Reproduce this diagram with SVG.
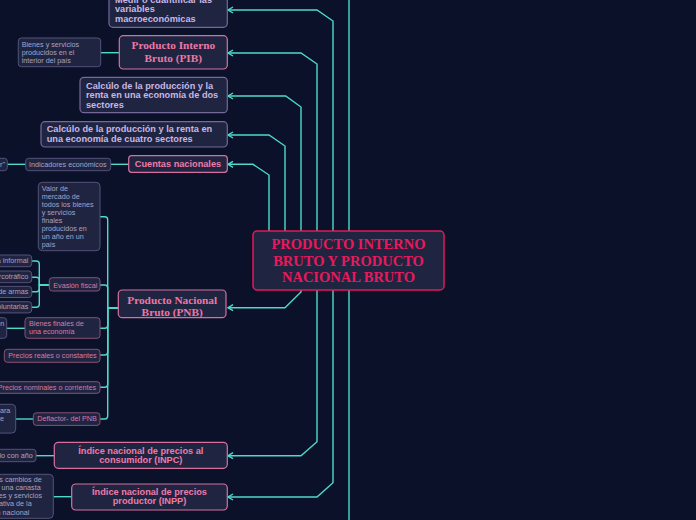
<svg xmlns="http://www.w3.org/2000/svg" width="696" height="520" viewBox="0 0 696 520">
<defs>
<marker id="arr" viewBox="0 0 8 8" refX="7" refY="4" markerWidth="8" markerHeight="8" orient="auto" markerUnits="userSpaceOnUse">
<path d="M2 1 L7 4 L2 7" fill="none" stroke="#4fd9c8" stroke-width="1.4"/>
</marker>
<style>
.bg{fill:#0b1129}
.c{fill:none;stroke:#4fd9c8;stroke-width:1.4}
.ca{fill:none;stroke:#4fd9c8;stroke-width:1.4;marker-end:url(#arr)}
.n{fill:#1f2541}
.lav{stroke:#74699a;stroke-width:1.2}
.pk{stroke:#d8709f;stroke-width:1.2}
.sl{stroke:#54527a;stroke-width:1}
.sp{stroke:#8a4f74;stroke-width:1}
.ctr{stroke:#e0195a;stroke-width:1.5}
.tb{font-family:"Liberation Sans",Arial,sans-serif;font-weight:bold;font-size:9.2px}
.tl{fill:#c9b6e6}
.tp{fill:#f07aa8}
.ts{font-family:"Liberation Sans",Arial,sans-serif;font-size:7.2px}
.tsl{fill:#a8a2c4}
.tsp{fill:#d87aa8}
.serif{font-family:"Liberation Serif","Times New Roman",serif;font-weight:bold;font-size:11.3px;fill:#ec77a6;text-anchor:middle}
.ctxt{font-family:"Liberation Serif","Times New Roman",serif;font-weight:bold;font-size:14.5px;fill:#e8195c;text-anchor:middle}
.mid{text-anchor:middle}
.end{text-anchor:end}
</style>
</defs>
<rect class="bg" x="0" y="0" width="696" height="520"/>

<g id="connectors">
<path class="c" d="M349 0 V520"/>
<path class="ca" d="M333 260 V21 L317 10 H228"/>
<path class="ca" d="M317 260 V64 L301 53 H228"/>
<path class="ca" d="M301 260 V107 L285.7 96 H228"/>
<path class="ca" d="M285 260 V146 L269 135 H228"/>
<path class="ca" d="M269 260 V175 L253 164.3 H228"/>
<path class="ca" d="M301 280 V292 L285 307.7 H228"/>
<path class="ca" d="M317 280 V441.7 L301 455.7 H228"/>
<path class="ca" d="M333 280 V482.7 L317 497 H228"/>
<path class="c" d="M100.7 52.7 H119.3"/>
<path class="c" d="M110.7 164.3 H128.7"/>
<path class="c" d="M25.7 164.3 H7.3"/>
<path class="c" d="M118.3 308 H107.7 V219.7 Q107.7 216.7 104.7 216.7 H100"/>
<path class="c" d="M118.3 308 H107.7 V288 Q107.7 285 104.7 285 H100"/>
<path class="c" d="M118.3 308 H107.7 V325.3 Q107.7 328.3 104.7 328.3 H100"/>
<path class="c" d="M118.3 308 H107.7 V352 Q107.7 355 104.7 355 H100"/>
<path class="c" d="M118.3 308 H107.7 V384.3 Q107.7 387.3 104.7 387.3 H100"/>
<path class="c" d="M118.3 308 H107.7 V416 Q107.7 419 104.7 419 H100"/>
<path class="c" d="M49.3 285 H39.3 V264 Q39.3 261 36.3 261 H31.7"/>
<path class="c" d="M49.3 285 H39.3 V280.3 Q39.3 277.3 36.3 277.3 H31.7"/>
<path class="c" d="M49.3 285 H39.3 V288.7 Q39.3 291.7 36.3 291.7 H31.7"/>
<path class="c" d="M49.3 285 H39.3 V304.3 Q39.3 307.3 36.3 307.3 H31.7"/>
<path class="c" d="M25 328.3 H6.7"/>
<path class="c" d="M33.3 419 H15.7"/>
<path class="c" d="M36 455.7 H54.3"/>
<path class="c" d="M53.3 496.7 H71.7"/>
</g>

<g id="center">
<rect class="n ctr" x="253" y="231" width="191" height="59" rx="4"/>
<text class="ctxt" x="348.5" y="249.3">PRODUCTO INTERNO</text>
<text class="ctxt" x="348.5" y="265.7">BRUTO Y PRODUCTO</text>
<text class="ctxt" x="348.5" y="281.7">NACIONAL BRUTO</text>
</g>

<g id="medir">
<rect class="n lav" x="109" y="-8" width="118.3" height="35.3" rx="4"/>
<text class="tb tl" x="115" y="2.9">Medir o cuantificar las</text>
<text class="tb tl" x="115" y="12.3">variables</text>
<text class="tb tl" x="115" y="21.7">macroeconómicas</text>
</g>

<g id="pib">
<rect class="n pk" x="119.3" y="35.7" width="108" height="33.3" rx="4"/>
<text class="serif" x="173.3" y="48.7">Producto Interno</text>
<text class="serif" x="173.3" y="61.7">Bruto (PIB)</text>
</g>

<g id="bienes-servicios">
<rect class="n sl" x="18.3" y="38" width="82.4" height="28.7" rx="3"/>
<text class="ts tsl" x="21.7" y="46.5">Bienes y servicios</text>
<text class="ts tsl" x="21.7" y="54.5">producidos en el</text>
<text class="ts tsl" x="21.7" y="62.5">interior del país</text>
</g>

<g id="calc-dos">
<rect class="n lav" x="80" y="77.3" width="147.3" height="35.4" rx="4"/>
<text class="tb tl" x="86" y="89">Calcúlo de la producción y la</text>
<text class="tb tl" x="86" y="98.4">renta en una economía de dos</text>
<text class="tb tl" x="86" y="107.8">sectores</text>
</g>

<g id="calc-cuatro">
<rect class="n lav" x="41" y="121.7" width="186.3" height="25.3" rx="4"/>
<text class="tb tl" x="46.7" y="132.3">Calcúlo de la producción y la renta en</text>
<text class="tb tl" x="46.7" y="141.5">una economía de cuatro sectores</text>
</g>

<g id="cuentas">
<rect class="n pk" x="128.7" y="155.7" width="98.6" height="16.6" rx="3"/>
<text class="tb tp mid" x="178" y="167.3">Cuentas nacionales</text>
</g>

<g id="indicadores">
<rect class="n sl" x="25.7" y="158.3" width="85" height="12.4" rx="3"/>
<text class="ts tsl" x="29" y="166.8">Indicadores económicos</text>
</g>

<g id="indicador-izq">
<rect class="n sl" x="-60" y="158.3" width="67.3" height="12.4" rx="3"/>
<text class="ts tsl end" x="5" y="166.8">PIB "indicador"</text>
</g>

<g id="pnb">
<rect class="n pk" x="118.3" y="290" width="107.7" height="27.7" rx="4"/>
<text class="serif" x="172.2" y="304.3">Producto Nacional</text>
<text class="serif" x="172.2" y="315.7">Bruto (PNB)</text>
</g>

<g id="valor">
<rect class="n sl" x="38.3" y="182.3" width="61.7" height="68.4" rx="4"/>
<text class="ts tsl" x="41.7" y="190.8">Valor de</text>
<text class="ts tsl" x="41.7" y="198.8">mercado de</text>
<text class="ts tsl" x="41.7" y="206.8">todos los bienes</text>
<text class="ts tsl" x="41.7" y="214.8">y servicios</text>
<text class="ts tsl" x="41.7" y="222.8">finales</text>
<text class="ts tsl" x="41.7" y="230.8">producidos en</text>
<text class="ts tsl" x="41.7" y="238.8">un año en un</text>
<text class="ts tsl" x="41.7" y="246.8">país</text>
</g>

<g id="evasion">
<rect class="n sp" x="49.3" y="277.7" width="50.7" height="13.3" rx="3"/>
<text class="ts tsp" x="53.3" y="287.8">Evasión fiscal</text>
</g>

<g id="informal">
<rect class="n sl" x="-80" y="255" width="111.7" height="11.7" rx="3"/>
<text class="ts tsl end" x="28.3" y="262.9">Economía informal</text>
</g>
<g id="narco">
<rect class="n sl" x="-80" y="271" width="111.7" height="11.7" rx="3"/>
<text class="ts tsl end" x="28.3" y="278.9">Narcotráfico</text>
</g>
<g id="armas">
<rect class="n sl" x="-80" y="286.3" width="111.7" height="11.2" rx="3"/>
<text class="ts tsl end" x="28.3" y="293.8">Tráfico de armas</text>
</g>
<g id="voluntarias">
<rect class="n sl" x="-80" y="301.7" width="111.7" height="11.2" rx="3"/>
<text class="ts tsl end" x="28.3" y="309.2">Donaciones voluntarias</text>
</g>

<g id="bienes-finales">
<rect class="n sp" x="25" y="317.7" width="75" height="20.6" rx="3"/>
<text class="ts tsp" x="29" y="326">Bienes finales de</text>
<text class="ts tsp" x="29" y="334.3">una economía</text>
</g>
<g id="produccion-izq">
<rect class="n sl" x="-60" y="317.7" width="66.7" height="20.6" rx="3"/>
<text class="ts tsl end" x="4.3" y="326">Producción</text>
</g>

<g id="precios-reales">
<rect class="n sp" x="4.3" y="349.3" width="95.7" height="13" rx="3"/>
<text class="ts tsp" x="8.3" y="357.6">Precios reales o constantes</text>
</g>

<g id="precios-nominales">
<rect class="n sp" x="-6" y="381.7" width="106" height="11.6" rx="3"/>
<text class="ts tsp end" x="96" y="389.6">Precios nominales o corrientes</text>
</g>

<g id="deflactor">
<rect class="n sp" x="33.3" y="412.8" width="66.7" height="12.6" rx="3"/>
<text class="ts tsp" x="37.3" y="421.3">Deflactor- del PNB</text>
</g>
<g id="deflactor-izq">
<rect class="n sl" x="-70" y="404.3" width="85.7" height="28.8" rx="4"/>
<text class="ts tsl end" x="10.3" y="412.6">Índice usado para</text>
<text class="ts tsl end" x="4" y="420.8">ajustar de</text>
</g>

<g id="inpc">
<rect class="n pk" x="54.3" y="442.3" width="173" height="26" rx="4"/>
<text class="tb tp mid" x="140.8" y="453.8">Índice nacional de precios al</text>
<text class="tb tp mid" x="140.8" y="463.2">consumidor (INPC)</text>
</g>
<g id="inpc-izq">
<rect class="n sl" x="-60" y="449.3" width="96" height="12.4" rx="3"/>
<text class="ts tsl end" x="32.7" y="457.9">Compara el precio con año</text>
</g>

<g id="inpp">
<rect class="n pk" x="71.7" y="484" width="155.6" height="26" rx="4"/>
<text class="tb tp mid" x="149.5" y="495">Índice nacional de precios</text>
<text class="tb tp mid" x="149.5" y="504.3">productor (INPP)</text>
</g>
<g id="inpp-izq">
<rect class="n sl" x="-60" y="474.3" width="113.3" height="44" rx="4"/>
<text class="ts tsl end" x="41.7" y="481.8">Mide los cambios de</text>
<text class="ts tsl end" x="40.7" y="490">precios de una canasta</text>
<text class="ts tsl end" x="42" y="498.2">de bienes y servicios</text>
<text class="ts tsl end" x="31.7" y="506.4">representativa de la</text>
<text class="ts tsl end" x="29.3" y="514.7">producción nacional</text>
</g>
</svg>
